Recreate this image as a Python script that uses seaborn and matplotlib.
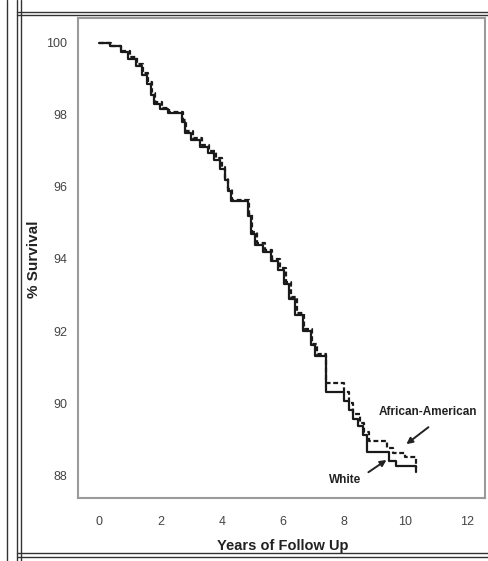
import numpy as np
import pandas as pd
import matplotlib
matplotlib.use("Agg")
import matplotlib.pyplot as plt
from matplotlib.lines import Line2D
import seaborn as sns

# ─── Data (Kaplan-Meier style steps) ───────────────────────────────────────
white_t = [0, 0.35, 0.7, 0.95, 1.2, 1.4, 1.55, 1.7, 1.8, 2.0, 2.25, 2.7, 2.8,
           3.0, 3.3, 3.55, 3.75, 3.95, 4.1, 4.2, 4.3, 4.85, 4.95, 5.1, 5.35,
           5.6, 5.85, 6.05, 6.2, 6.4, 6.65, 6.9, 7.05, 7.4, 8.0, 8.15, 8.3,
           8.45, 8.6, 8.75, 9.45, 9.7, 10.35, 10.35]
white_s = [100, 99.9, 99.75, 99.55, 99.35, 99.1, 98.85, 98.55, 98.3, 98.15,
           98.05, 97.8, 97.5, 97.3, 97.1, 96.95, 96.75, 96.5, 96.2, 95.9, 95.6,
           95.2, 94.7, 94.4, 94.2, 93.95, 93.7, 93.3, 92.9, 92.45, 92.0, 91.6,
           91.3, 90.3, 90.05, 89.8, 89.55, 89.35, 89.1, 88.65, 88.4, 88.25,
           88.25, 88.1]

aa_t = [0, 0.4, 0.72, 1.0, 1.22, 1.42, 1.58, 1.72, 1.82, 2.05, 2.28, 2.72,
        2.85, 3.05, 3.35, 3.6, 3.8, 4.0, 4.12, 4.22, 4.35, 4.88, 4.98, 5.15,
        5.4, 5.65, 5.9, 6.1, 6.25, 6.45, 6.7, 6.95, 7.1, 7.4, 8.0, 8.15, 8.3,
        8.5, 8.65, 8.8, 9.4, 9.6, 10.0, 10.35, 10.35]
aa_s = [100, 99.92, 99.78, 99.6, 99.4, 99.15, 98.9, 98.6, 98.35, 98.2, 98.08,
        97.85, 97.55, 97.35, 97.15, 97.0, 96.8, 96.55, 96.25, 95.95, 95.65,
        95.25, 94.75, 94.45, 94.25, 94.0, 93.75, 93.35, 92.95, 92.5, 92.05,
        91.65, 91.35, 90.55, 90.3, 90.0, 89.7, 89.45, 89.2, 88.95, 88.75, 88.6,
        88.5, 88.5, 88.2]

x_ticks = [0, 2, 4, 6, 8, 10, 12]
y_ticks = [88, 90, 92, 94, 96, 98, 100]

df = pd.concat([
    pd.DataFrame({"years": white_t, "surv": white_s, "group": "White"}),
    pd.DataFrame({"years": aa_t, "surv": aa_s, "group": "African-American"}),
], ignore_index=True)

# ─── Figure ─────────────────────────────────────────────────────────────────
sns.set_style("white")
plt.rcParams["font.family"] = ["Liberation Sans", "DejaVu Sans"]
NARROW = ["Liberation Sans Narrow", "Liberation Sans", "DejaVu Sans"]

fig = plt.figure(figsize=(4.88, 5.61), dpi=100)
ax = fig.add_axes([0.160, 0.112, 0.834, 0.856])

sns.lineplot(data=df, x="years", y="surv", style="group",
             style_order=["White", "African-American"],
             dashes={"White": "", "African-American": (2.2, 1.2)},
             color="#1a1a1a", linewidth=1.6, drawstyle="steps-post",
             estimator=None, sort=False, legend=False, ax=ax)

ax.set_xlim(-0.69, 12.6)
ax.set_ylim(87.36, 100.69)
ax.set_xticks(x_ticks)
ax.set_yticks(y_ticks)
ax.tick_params(axis="both", direction="out", length=5, width=1.2,
               color="#555555", labelcolor="#444444", labelsize=9, pad=3)
ax.tick_params(axis="x", pad=8)
for lab in ax.get_xticklabels() + ax.get_yticklabels():
    lab.set_family(NARROW)
for sp in ax.spines.values():
    sp.set_color("#9a9a9a")
    sp.set_linewidth(1.5)

ax.set_xlabel("Years of Follow Up", fontsize=10.5, fontweight="bold",
              color="#222222")
ax.set_ylabel("% Survival", fontsize=11, fontweight="bold", color="#222222")
ax.xaxis.set_label_coords(0.503, -0.085)
ax.yaxis.set_label_coords(-0.092, 0.498)

# annotations
ax.text(10.75, 89.75, "African-American", ha="center", va="center",
        fontsize=8.5, fontweight="bold", color="#222222")
ax.text(8.04, 87.86, "White", ha="center", va="center",
        fontsize=8.5, fontweight="bold", color="#222222")
arrow = dict(arrowstyle="-|>", color="#222222", lw=1.4,
             shrinkA=0, shrinkB=0, mutation_scale=9)
ax.annotate("", xy=(10.03, 88.86), xytext=(10.75, 89.33), arrowprops=arrow)
ax.annotate("", xy=(9.38, 88.42), xytext=(8.79, 88.08), arrowprops=arrow)

# scanned page frame (double border)
for x in [7 / 488, 17 / 488, 21 / 488]:
    fig.add_artist(Line2D([x, x], [0, 1], color="#333333", lw=1.0,
                          transform=fig.transFigure))
for y in [1 - 12 / 561, 1 - 15 / 561, 1 - 553 / 561, 1 - 557 / 561]:
    fig.add_artist(Line2D([17 / 488, 1], [y, y], color="#333333", lw=1.0,
                          transform=fig.transFigure))

fig.savefig("out.png", dpi=100)
